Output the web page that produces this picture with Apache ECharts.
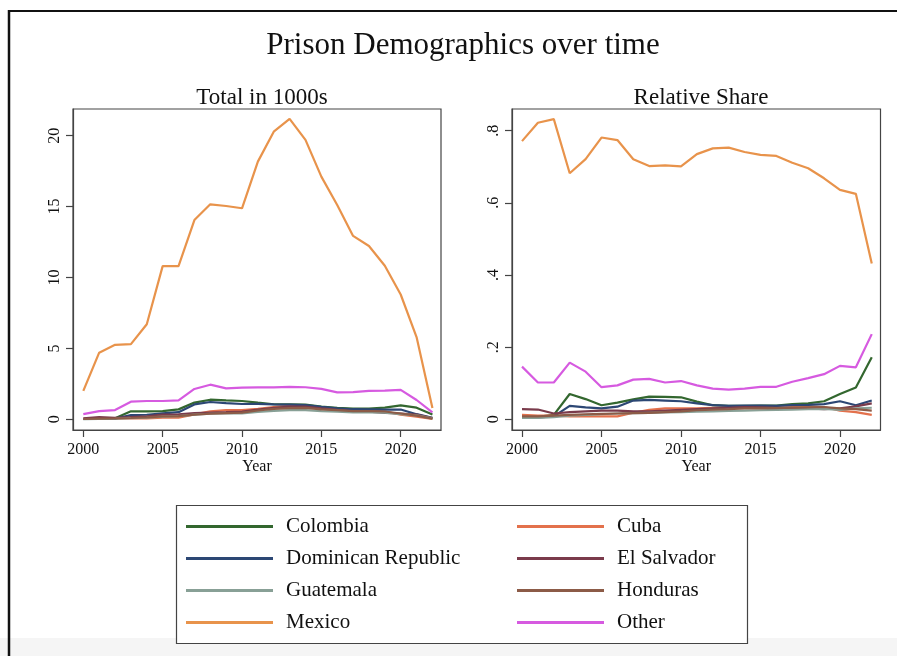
<!DOCTYPE html>
<html>
<head>
<meta charset="utf-8">
<title>Prison Demographics over time</title>
<script src="https://cdn.jsdelivr.net/npm/echarts@6/dist/echarts.min.js"></script>
<style>
  html, body { margin: 0; padding: 0; background: #ffffff; }
  #chart { width: 897px; height: 656px; }
</style>
</head>
<body>
<div id="chart"></div>
<script>
// Years on the horizontal axis
const years = [2000, 2001, 2002, 2003, 2004, 2005, 2006, 2007, 2008, 2009, 2010,
  2011, 2012, 2013, 2014, 2015, 2016, 2017, 2018, 2019, 2020, 2021, 2022];

// Tick positions / labels
const yearTicks = [2000, 2005, 2010, 2015, 2020];
const totalTicks = [0, 5, 10, 15, 20];
const shareTicks = [0, 0.2, 0.4, 0.6, 0.8];
const shareTickLabels = ['0', '.2', '.4', '.6', '.8'];

// Country groups, in plotting order
const countries = ['Colombia', 'Cuba', 'Dominican Republic', 'El Salvador',
  'Guatemala', 'Honduras', 'Mexico', 'Other'];

// Prisoners, in thousands
const colombiaTotal = [0.02, 0.04, 0.08, 0.56, 0.56, 0.57, 0.70, 1.18, 1.38, 1.33, 1.29, 1.17, 1.06, 1.05, 1.03, 0.89, 0.80, 0.76, 0.76, 0.82, 0.98, 0.82, 0.34];
const cubaTotal = [0.03, 0.06, 0.06, 0.06, 0.07, 0.11, 0.11, 0.35, 0.56, 0.64, 0.64, 0.74, 0.86, 0.96, 0.90, 0.75, 0.66, 0.62, 0.63, 0.55, 0.33, 0.19, 0.03];
const domRepTotal = [0.02, 0.03, 0.05, 0.30, 0.32, 0.42, 0.50, 1.05, 1.22, 1.14, 1.08, 1.09, 1.05, 1.04, 1.00, 0.88, 0.77, 0.71, 0.70, 0.68, 0.69, 0.36, 0.10];
const elSalvadorTotal = [0.07, 0.15, 0.10, 0.16, 0.20, 0.33, 0.34, 0.43, 0.48, 0.51, 0.55, 0.69, 0.81, 0.90, 0.90, 0.77, 0.66, 0.56, 0.53, 0.45, 0.41, 0.33, 0.09];
const guatemalaTotal = [0.01, 0.02, 0.04, 0.08, 0.11, 0.19, 0.22, 0.33, 0.39, 0.41, 0.42, 0.52, 0.59, 0.65, 0.64, 0.58, 0.54, 0.49, 0.49, 0.47, 0.36, 0.28, 0.07];
const hondurasTotal = [0.02, 0.05, 0.06, 0.09, 0.13, 0.21, 0.22, 0.33, 0.39, 0.43, 0.47, 0.62, 0.73, 0.79, 0.80, 0.70, 0.64, 0.58, 0.58, 0.55, 0.41, 0.26, 0.05];
const mexicoTotal = [2.0, 4.7, 5.25, 5.3, 6.7, 10.8, 10.8, 14.05, 15.16, 15.04, 14.88, 18.17, 20.28, 21.18, 19.7, 17.11, 15.11, 12.93, 12.22, 10.83, 8.8, 5.8, 0.8];
const otherTotal = [0.37, 0.58, 0.65, 1.24, 1.29, 1.29, 1.34, 2.14, 2.44, 2.18, 2.23, 2.25, 2.25, 2.28, 2.26, 2.14, 1.90, 1.92, 2.00, 2.02, 2.07, 1.36, 0.49];

// Share of all prisoners
const colombiaShare = [0.007, 0.007, 0.012, 0.070, 0.056, 0.039, 0.046, 0.055, 0.063, 0.062, 0.061, 0.049, 0.039, 0.037, 0.037, 0.038, 0.038, 0.042, 0.044, 0.050, 0.070, 0.088, 0.172];
const cubaShare = [0.012, 0.010, 0.010, 0.008, 0.008, 0.008, 0.008, 0.018, 0.026, 0.030, 0.030, 0.030, 0.032, 0.034, 0.034, 0.032, 0.032, 0.034, 0.036, 0.034, 0.024, 0.020, 0.012];
const domRepShare = [0.005, 0.005, 0.008, 0.037, 0.033, 0.030, 0.035, 0.052, 0.054, 0.052, 0.050, 0.044, 0.039, 0.037, 0.038, 0.038, 0.037, 0.039, 0.040, 0.042, 0.050, 0.039, 0.052];
const elSalvadorShare = [0.028, 0.027, 0.016, 0.020, 0.022, 0.024, 0.024, 0.022, 0.022, 0.024, 0.026, 0.028, 0.030, 0.032, 0.034, 0.033, 0.032, 0.031, 0.030, 0.028, 0.030, 0.036, 0.044];
const guatemalaShare = [0.004, 0.004, 0.006, 0.010, 0.012, 0.014, 0.016, 0.017, 0.018, 0.019, 0.020, 0.021, 0.022, 0.023, 0.024, 0.025, 0.026, 0.027, 0.028, 0.029, 0.026, 0.030, 0.032];
const hondurasShare = [0.008, 0.008, 0.010, 0.012, 0.014, 0.015, 0.016, 0.017, 0.018, 0.020, 0.022, 0.025, 0.027, 0.028, 0.030, 0.030, 0.031, 0.032, 0.033, 0.034, 0.030, 0.028, 0.024];
const mexicoShare = [0.771, 0.822, 0.832, 0.682, 0.721, 0.781, 0.774, 0.721, 0.702, 0.704, 0.701, 0.735, 0.751, 0.753, 0.741, 0.733, 0.730, 0.711, 0.696, 0.668, 0.636, 0.625, 0.432];
const otherShare = [0.146, 0.102, 0.102, 0.157, 0.132, 0.089, 0.094, 0.110, 0.112, 0.102, 0.106, 0.094, 0.085, 0.082, 0.085, 0.090, 0.090, 0.104, 0.114, 0.125, 0.148, 0.144, 0.236];

const totals = [colombiaTotal, cubaTotal, domRepTotal, elSalvadorTotal,
  guatemalaTotal, hondurasTotal, mexicoTotal, otherTotal];
const shares = [colombiaShare, cubaShare, domRepShare, elSalvadorShare,
  guatemalaShare, hondurasShare, mexicoShare, otherShare];

const lineColors = ['#33672f', '#e3714c', '#2c4774', '#7a3b4b',
  '#88a096', '#8c5b47', '#e8934b', '#d65ae0'];

const serif = '"Liberation Serif", "DejaVu Serif", serif';
const ink = '#111111';
const frame = '#444444';

function pairs(values) {
  return values.map((v, i) => [years[i], v]);
}

const series = [];
countries.forEach((name, k) => {
  [totals[k], shares[k]].forEach((vals, g) => {
    series.push({
      name: name,
      type: 'line',
      xAxisIndex: g,
      yAxisIndex: g,
      data: pairs(vals),
      showSymbol: false,
      symbol: 'none',
      silent: true,
      animation: false,
      lineStyle: { color: lineColors[k], width: 2.2 },
      itemStyle: { color: lineColors[k] },
      z: 2 + k
    });
  });
});

function xAxisFor(gridIndex, min, max) {
  return {
    type: 'value',
    gridIndex: gridIndex,
    min: min,
    max: max,
    name: 'Year',
    nameLocation: 'middle',
    nameGap: 29,
    nameTextStyle: { fontFamily: serif, fontSize: 16, color: ink },
    axisLine: { show: true, onZero: false, lineStyle: { color: frame, width: 1.2 } },
    axisTick: { show: true, length: 7, customValues: yearTicks, lineStyle: { color: frame, width: 1.2 } },
    axisLabel: { customValues: yearTicks, fontFamily: serif, fontSize: 16, color: ink, margin: 12,
      formatter: v => String(v) },
    splitLine: { show: false }
  };
}

function yAxisFor(gridIndex, min, max, ticks, fmt) {
  return {
    type: 'value',
    gridIndex: gridIndex,
    min: min,
    max: max,
    axisLine: { show: true, onZero: false, lineStyle: { color: frame, width: 1.2 } },
    axisTick: { show: true, length: 7, customValues: ticks, lineStyle: { color: frame, width: 1.2 } },
    axisLabel: {
      customValues: ticks,
      rotate: 90,
      fontFamily: serif,
      fontSize: 16,
      color: ink,
      margin: 10,
      formatter: fmt
    },
    splitLine: { show: false }
  };
}

const legendCommon = {
  orient: 'vertical',
  icon: 'rect',
  itemWidth: 87,
  itemHeight: 3,
  itemGap: 11,
  selectedMode: false,
  textStyle: { fontFamily: serif, fontSize: 21, color: ink, padding: [0, 0, 0, 8] },
  padding: 0
};

const option = {
  backgroundColor: '#ffffff',
  animation: false,
  color: lineColors,
  title: [
    { text: 'Prison Demographics over time', left: 458, top: 25, textAlign: 'center',
      textStyle: { fontFamily: serif, fontSize: 31, fontWeight: 'normal', color: ink } },
    { text: 'Total in 1000s', left: 257, top: 81, textAlign: 'center',
      textStyle: { fontFamily: serif, fontSize: 23, fontWeight: 'normal', color: ink } },
    { text: 'Relative Share', left: 696, top: 81, textAlign: 'center',
      textStyle: { fontFamily: serif, fontSize: 23, fontWeight: 'normal', color: ink } }
  ],
  grid: [
    { left: 73, right: 456, top: 109, bottom: 226, show: true, borderColor: frame, borderWidth: 1.2, backgroundColor: '#ffffff' },
    { left: 512, right: 16.5, top: 109, bottom: 226, show: true, borderColor: frame, borderWidth: 1.2, backgroundColor: '#ffffff' }
  ],
  xAxis: [
    xAxisFor(0, 1999.35, 2022.54),
    xAxisFor(1, 1999.37, 2022.55)
  ],
  yAxis: [
    yAxisFor(0, -0.755, 21.88, totalTicks, v => String(v)),
    yAxisFor(1, -0.0297, 0.8601, shareTicks, v => shareTickLabels[shareTicks.indexOf(Math.round(v * 10) / 10)])
  ],
  legend: [
    Object.assign({}, legendCommon, { left: 186, top: 516, data: ['Colombia', 'Dominican Republic', 'Guatemala', 'Mexico'] }),
    Object.assign({}, legendCommon, { left: 517, top: 516, data: ['Cuba', 'El Salvador', 'Honduras', 'Other'] })
  ],
  graphic: [
    { type: 'rect', shape: { x: 0, y: 638, width: 897, height: 18 }, style: { fill: '#f5f5f5' }, z: -1, silent: true },
    { type: 'line', shape: { x1: 9, y1: 11, x2: 897, y2: 11 }, style: { stroke: '#111', lineWidth: 2 }, silent: true },
    { type: 'line', shape: { x1: 9, y1: 10, x2: 9, y2: 656 }, style: { stroke: '#111', lineWidth: 2.5 }, silent: true },
    { type: 'rect', shape: { x: 176.5, y: 505.5, width: 571, height: 138 }, style: { fill: '#ffffff', stroke: frame, lineWidth: 1.2 }, z: 0, silent: true }
  ],
  series: series
};

const chart = echarts.init(document.getElementById('chart'), null, { renderer: 'canvas' });
chart.setOption(option);
</script>
</body>
</html>
